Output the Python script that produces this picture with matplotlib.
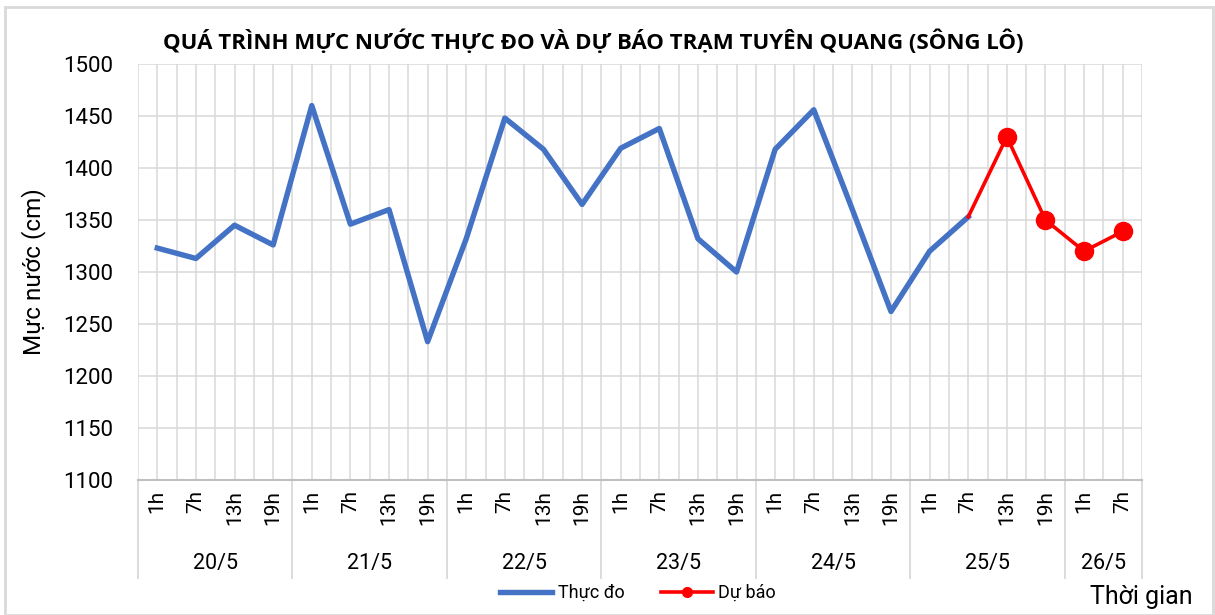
from matplotlib import pyplot as plt
from matplotlib.lines import Line2D
from matplotlib.patches import Rectangle
import matplotlib.transforms as mtransforms
import numpy as np

# --- data ---
days = ['20/5', '21/5', '22/5', '23/5', '24/5', '25/5', '26/5']
hours_per_day = [4, 4, 4, 4, 4, 4, 2]
hours = ['1h', '7h', '13h', '19h'] * 6 + ['1h', '7h']

observed = [1323, 1313, 1345, 1326,
            1460, 1346, 1360, 1233,
            1332, 1448, 1418, 1365,
            1419, 1438, 1332, 1300,
            1418, 1456, 1360, 1262,
            1320, 1353]
forecast = [1353, 1430, 1350, 1320, 1339]   # starts at 25/5 7h

plt.rcParams['font.family'] = ['Roboto', 'DejaVu Sans']

fig = plt.figure(figsize=(12.15, 6.15), dpi=100)
W, H = 1215, 615
ax = fig.add_axes([138 / W, 1 - 480 / H, (1142 - 138) / W, (480 - 64) / H])

x_obs = np.arange(len(observed))
x_fc = np.arange(len(observed) - 1, len(observed) - 1 + len(forecast))

ax.plot(x_obs, observed, color='#4472c4', lw=3.9, zorder=3)
ax.plot(x_fc, forecast, color='#ff0000', lw=2.6, marker='o', ms=13,
        markevery=list(range(1, len(forecast))), zorder=4)

ax.set_xlim(-0.5, len(hours) - 0.5)
ax.set_ylim(1100, 1500)
ax.set_yticks(np.arange(1100, 1501, 50))
ax.set_xticks(np.arange(len(hours)))
ax.set_xticks(np.arange(-0.5, len(hours), 1), minor=True)
ax.set_xticklabels(hours, rotation=90, fontsize=15)
ax.tick_params(axis='x', which='both', length=0, pad=7)
ax.tick_params(axis='y', length=0, pad=18, labelsize=16)

ax.grid(True, which='both', color='#d9d9d9', lw=1.1, zorder=0)
ax.set_axisbelow(True)
for s in ['top', 'right', 'left']:
    ax.spines[s].set_visible(False)
ax.spines['bottom'].set_color('#bfbfbf')
ax.spines['bottom'].set_linewidth(1.5)

# second level of the category axis
trans = mtransforms.blended_transform_factory(ax.transData, ax.transAxes)
edges = np.concatenate([[0], np.cumsum(hours_per_day)]) - 0.5
for e in edges:
    ax.add_line(Line2D([e, e], [0, -(578 - 480) / 416], transform=trans,
                       color='#d9d9d9', lw=1.3, clip_on=False))
for i, d in enumerate(days):
    ax.text((edges[i] + edges[i + 1]) / 2, -(563 - 480) / 416, d, transform=trans,
            ha='center', va='center', fontsize=15.5)

ax.set_ylabel('Mực nước (cm)', fontsize=17.5)
ax.yaxis.set_label_coords((46 - 138) / 1004, 0.5)

fig.text(593 / W, 1 - 42 / H, 'QUÁ TRÌNH MỰC NƯỚC THỰC ĐO VÀ DỰ BÁO TRẠM TUYÊN QUANG (SÔNG LÔ)',
         ha='center', va='center', fontsize=16, fontweight='bold',
         family=['Open Sans', 'DejaVu Sans'])
fig.text(1141 / W, 1 - 597 / H, 'Thời gian', ha='center', va='center', fontsize=18)

handles = [Line2D([], [], color='#4472c4', lw=3.9),
           Line2D([], [], color='#ff0000', lw=2.6, marker='o', ms=7)]
fig.legend(handles, ['Thực đo', 'Dự báo'], loc='center', bbox_to_anchor=(638 / W, 1 - 593 / H),
           ncol=2, frameon=False, fontsize=13, handlelength=2.9, handletextpad=0.3,
           columnspacing=2.0)

fig.add_artist(Rectangle((5 / W, 0), 1208 / W, 1 - 7 / H, transform=fig.transFigure,
                         fill=False, edgecolor='#d9d9d9', lw=2))

fig.savefig('out.png', dpi=100)
